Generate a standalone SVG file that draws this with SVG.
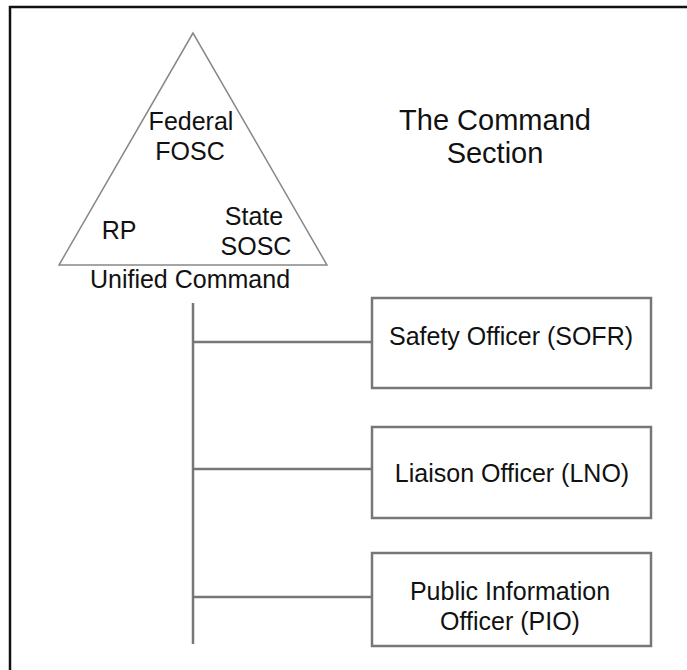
<svg xmlns="http://www.w3.org/2000/svg" width="687" height="670" viewBox="0 0 687 670">
<style>
text{font-family:"Liberation Sans",Arial,sans-serif;font-size:25px;fill:#111;text-anchor:middle}
.title{font-size:29px}
.box{fill:#fff;stroke:#777;stroke-width:2.5}
.conn{stroke:#777;stroke-width:2.5;fill:none}
</style>
<rect x="0" y="0" width="687" height="670" fill="#fff"/>
<g id="frame"><polyline points="10,680 10,7 700,7" fill="none" stroke="#111" stroke-width="2.5"/></g>
<g id="unified-command">
<polygon points="193,33 59,265 327,265" fill="#fff" stroke="#888" stroke-width="1.5"/>
<text x="191" y="130">Federal</text>
<text x="190" y="160">FOSC</text>
<text x="119" y="239">RP</text>
<text x="254" y="225">State</text>
<text x="256" y="255">SOSC</text>
<text x="190" y="288">Unified Command</text>
</g>
<g id="title">
<text class="title" x="495" y="130">The Command</text>
<text class="title" x="495" y="163">Section</text>
</g>
<g id="connectors">
<line class="conn" x1="193" y1="303" x2="193" y2="644"/>
<line class="conn" x1="193" y1="342" x2="372" y2="342"/>
<line class="conn" x1="193" y1="469" x2="372" y2="469"/>
<line class="conn" x1="193" y1="597" x2="372" y2="597"/>
</g>
<g id="safety-officer">
<rect class="box" x="372" y="298" width="279" height="90"/>
<text x="511" y="345">Safety Officer (SOFR)</text>
</g>
<g id="liaison-officer">
<rect class="box" x="372" y="427" width="279" height="91"/>
<text x="512" y="482">Liaison Officer (LNO)</text>
</g>
<g id="public-information-officer">
<rect class="box" x="372" y="553" width="279" height="93"/>
<text x="510" y="600">Public Information</text>
<text x="510" y="630">Officer (PIO)</text>
</g>
</svg>
